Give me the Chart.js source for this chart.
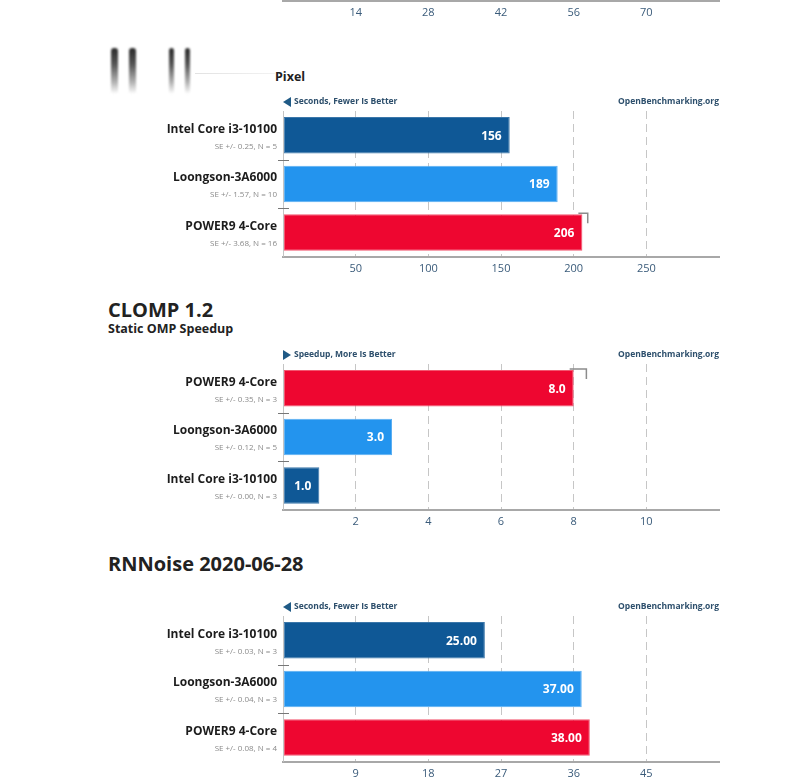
<!DOCTYPE html>
<html>
<head>
<meta charset="utf-8">
<script src="https://cdn.jsdelivr.net/npm/chart.js@4.4.1/dist/chart.umd.min.js"></script>
<style>
  body { margin: 0; background: #fff; width: 789px; height: 784px; overflow: hidden; position: relative; font-family: "Open Sans", sans-serif; }
  canvas { position: absolute; left: 0; }
  .title { position: absolute; left: 108px; font-weight: 700; font-size: 20px; color: #222; line-height: 1; }
  .sub { position: absolute; font-weight: 700; font-size: 12.5px; color: #222; line-height: 1; }
  .blob { position: absolute; top: 48px; height: 46px; border-radius: 3px;
          background: linear-gradient(#2a2a2a 0%, #555 35%, #b5b5b5 75%, rgba(255,255,255,0) 100%); filter: blur(1px); }
  .fade { position: absolute; left: 195px; top: 73px; width: 80px; height: 1px; background: linear-gradient(90deg, #e2e2e2, #f2f2f2); }
</style>
</head>
<body>
<canvas id="topAxis"></canvas>

<div class="blob" style="left:111px;width:7px"></div>
<div class="blob" style="left:129px;width:7px"></div>
<div class="blob" style="left:169px;width:5px"></div>
<div class="blob" style="left:185px;width:5px"></div>
<div class="fade"></div>
<div class="sub" style="left:275px;top:71px;">Pixel</div>
<canvas id="pixelChart"></canvas>

<div class="title" style="top:300px;">CLOMP 1.2</div>
<div class="sub" style="left:108px;top:323px;">Static OMP Speedup</div>
<canvas id="clompChart"></canvas>

<div class="title" style="top:554px;">RNNoise 2020-06-28</div>
<canvas id="rnnoiseChart"></canvas>

<script>
// previous result, only its axis is visible at the top
const topTicksMax = 84;
const topTicksStep = 14;

// Pixel (title blurred in source)
const pixelLabels = ['Intel Core i3-10100', 'Loongson-3A6000', 'POWER9 4-Core'];
const pixelValues = [156, 189, 206];
const pixelSE = [0.25, 1.57, 3.68];
const pixelN = [5, 10, 16];

// CLOMP 1.2 - Static OMP Speedup
const clompLabels = ['POWER9 4-Core', 'Loongson-3A6000', 'Intel Core i3-10100'];
const clompValues = [8.0, 3.0, 1.0];
const clompSE = [0.35, 0.12, 0.00];
const clompN = [3, 5, 3];

// RNNoise 2020-06-28
const rnnoiseLabels = ['Intel Core i3-10100', 'Loongson-3A6000', 'POWER9 4-Core'];
const rnnoiseValues = [25.00, 37.00, 38.00];
const rnnoiseSE = [0.03, 0.04, 0.08];
const rnnoiseN = [3, 3, 4];

const cpuColors = {
  'Intel Core i3-10100': '#0f5896',
  'Loongson-3A6000': '#2394ee',
  'POWER9 4-Core': '#ee0630'
};
const cpuBorders = {
  'Intel Core i3-10100': '#3b77aa',
  'Loongson-3A6000': '#5aaef2',
  'POWER9 4-Core': '#f2566f'
};

const FONT = '"Open Sans", sans-serif';

const obPlugin = {
  id: 'obDecor',
  afterDatasetsDraw(chart, args, opts) {
    if (!opts.values) return;
    const ctx = chart.ctx;
    const xs = chart.scales.x;
    const meta = chart.getDatasetMeta(0);
    ctx.save();
    meta.data.forEach((el, i) => {
      const v = opts.values[i];
      // error bar bracket, only when it sticks out past the bar end
      const top = el.y - el.height / 2;
      const xe = xs.getPixelForValue(v + opts.se[i]);
      if (xe - el.x > 5) {
        ctx.strokeStyle = '#8c8c8c';
        ctx.lineWidth = 1.5;
        ctx.beginPath();
        ctx.moveTo(el.x - 4, top - 1);
        ctx.lineTo(xe, top - 1);
        ctx.lineTo(xe, top + 9);
        ctx.stroke();
      }
      // value label
      ctx.fillStyle = '#fff';
      ctx.font = 'bold 12px ' + FONT;
      ctx.textAlign = 'right';
      ctx.textBaseline = 'middle';
      ctx.fillText(v.toFixed(opts.decimals), el.x - 8, el.y + 1);
    });
    ctx.restore();
  },
  afterDraw(chart, args, opts) {
    if (!opts.values) return;
    const ctx = chart.ctx;
    const area = chart.chartArea;
    const ys = chart.scales.y;
    ctx.save();
    // left axis line
    ctx.strokeStyle = '#c4c4c4';
    ctx.lineWidth = 1;
    ctx.beginPath();
    ctx.moveTo(area.left + 0.5, area.top);
    ctx.lineTo(area.left + 0.5, area.bottom);
    ctx.stroke();
    const centers = opts.labels.map((l, i) => ys.getPixelForValue(i));
    // category separators
    ctx.strokeStyle = '#777';
    for (let i = 0; i < centers.length - 1; i++) {
      const y = Math.round((centers[i] + centers[i + 1]) / 2) + 0.5;
      ctx.beginPath();
      ctx.moveTo(area.left - 5, y);
      ctx.lineTo(area.left + 6, y);
      ctx.stroke();
    }
    // category names and SE lines
    ctx.textAlign = 'right';
    ctx.textBaseline = 'middle';
    opts.labels.forEach((l, i) => {
      ctx.fillStyle = '#1c1c1c';
      ctx.font = 'bold 12px ' + FONT;
      ctx.fillText(l, area.left - 6, centers[i] - 6);
      ctx.fillStyle = '#8a8a8a';
      ctx.font = '8px ' + FONT;
      ctx.fillText('SE +/- ' + opts.se[i].toFixed(2) + ', N = ' + opts.n[i], area.left - 6, centers[i] + 11);
    });
    // header row
    const hy = area.top - 9;
    ctx.fillStyle = '#1f5a86';
    ctx.beginPath();
    if (opts.more) {
      ctx.moveTo(area.left, hy - 5);
      ctx.lineTo(area.left + 8, hy);
      ctx.lineTo(area.left, hy + 5);
    } else {
      ctx.moveTo(area.left + 8, hy - 5);
      ctx.lineTo(area.left, hy);
      ctx.lineTo(area.left + 8, hy + 5);
    }
    ctx.fill();
    ctx.fillStyle = '#2d4f6c';
    ctx.font = 'bold 8.5px ' + FONT;
    ctx.textAlign = 'left';
    ctx.fillText(opts.header, area.left + 11, hy);
    ctx.textAlign = 'right';
    ctx.fillText('OpenBenchmarking.org', area.right, hy);
    ctx.restore();
  }
};

function xAxis(max, step) {
  return {
    min: 0, max: max,
    ticks: {
      stepSize: step,
      padding: 5,
      color: '#3a5b7a',
      font: { family: FONT, size: 11 },
      callback: v => (v === 0 || v === max) ? '' : v
    },
    grid: {
      drawTicks: false,
      color: c => (c.tick && (c.tick.value === 0 || c.tick.value === max)) ? 'rgba(0,0,0,0)' : '#c6c6c6',
      lineWidth: 1
    },
    // dash applies to the gridlines in v4
    border: { display: true, color: '#a8a8a8', width: 2, dash: [8, 5] }
  };
}

function placeCanvas(id, top, height) {
  const el = document.getElementById(id);
  el.style.top = top + 'px';
  el.style.width = '789px';
  el.style.height = height + 'px';
  el.width = 789;
  el.height = height;
  return el;
}

function makePanel(id, top, labels, values, se, n, max, step, decimals, header, more) {
  const canvas = placeCanvas(id, top, 190);
  return new Chart(canvas, {
    type: 'bar',
    data: {
      labels: labels,
      datasets: [{
        data: values,
        backgroundColor: labels.map(l => cpuColors[l]),
        borderColor: labels.map(l => cpuBorders[l]),
        borderWidth: 1,
        borderSkipped: false,
        barPercentage: 0.75,
        categoryPercentage: 1
      }]
    },
    options: {
      indexAxis: 'y',
      responsive: false,
      animation: false,
      layout: { padding: { left: 283, right: 70, top: 21, bottom: 0 } },
      plugins: {
        legend: { display: false },
        tooltip: { enabled: false },
        obDecor: { labels, values, se, n, decimals, header, more }
      },
      scales: {
        x: xAxis(max, step),
        y: { display: false }
      }
    },
    plugins: [obPlugin]
  });
}

Chart.defaults.font.family = FONT;

// top fragment: axis only
(function () {
  const canvas = placeCanvas('topAxis', -40, 64);
  new Chart(canvas, {
    type: 'bar',
    data: { labels: [''], datasets: [{ data: [null] }] },
    options: {
      indexAxis: 'y', responsive: false, animation: false,
      layout: { padding: { left: 283, right: 70, top: 0, bottom: 0 } },
      plugins: { legend: { display: false }, tooltip: { enabled: false } },
      scales: { x: xAxis(topTicksMax, topTicksStep), y: { display: false } }
    }
  });
})();

makePanel('pixelChart', 90, pixelLabels, pixelValues, pixelSE, pixelN, 300, 50, 0, 'Seconds, Fewer Is Better', false);
makePanel('clompChart', 343, clompLabels, clompValues, clompSE, clompN, 12, 2, 1, 'Speedup, More Is Better', true);
makePanel('rnnoiseChart', 595, rnnoiseLabels, rnnoiseValues, rnnoiseSE, rnnoiseN, 54, 9, 2, 'Seconds, Fewer Is Better', false);
</script>
</body>
</html>
